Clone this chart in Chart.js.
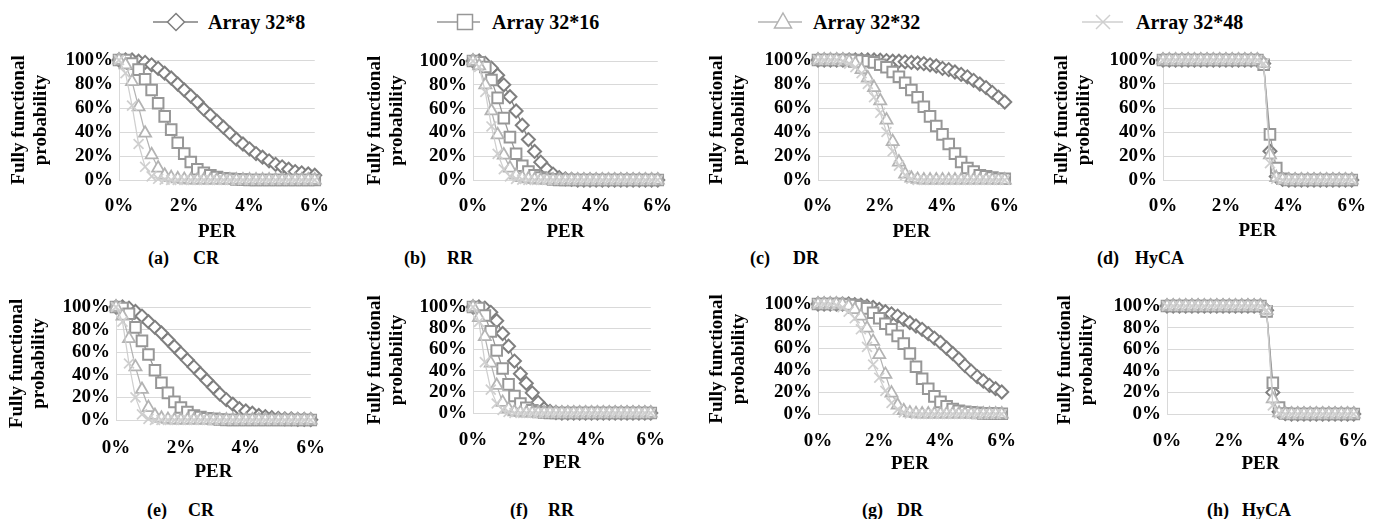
<!DOCTYPE html>
<html>
<head>
<meta charset="utf-8">
<script src="https://cdn.jsdelivr.net/npm/chart.js@4.4.1/dist/chart.umd.min.js"></script>
<style>
  html, body { margin: 0; padding: 0; background: #fff; }
  body { width: 1385px; height: 519px; position: relative; overflow: hidden;
         font-family: 'Liberation Serif', 'Times New Roman', serif; font-weight: bold; color: #000; }
  canvas { position: absolute; }
  .lg { position: absolute; font-size: 20px; line-height: 24px; white-space: nowrap; }
  .cap { position: absolute; font-size: 18px; line-height: 20px; white-space: nowrap; }
</style>
</head>
<body>
<svg id="legendMarks" width="1385" height="44" style="position:absolute;left:0;top:0"></svg>
<script>
// PER values (x) in percent
const per = [0, 0.2, 0.4, 0.6, 0.8, 1.0, 1.2, 1.4, 1.6, 1.8, 2.0, 2.2, 2.4, 2.6, 2.8, 3.0,
             3.2, 3.4, 3.6, 3.8, 4.0, 4.2, 4.4, 4.6, 4.8, 5.0, 5.2, 5.4, 5.6, 5.8, 6.0];
const seriesNames = ['Array 32*8', 'Array 32*16', 'Array 32*32', 'Array 32*48'];
const xTicks = [0, 2, 4, 6];
const yTicks = [0, 20, 40, 60, 80, 100];

// (a) CR
const crA8  = [100,100,100,99,98,96,93,89,85,80,75,70,65,59,54,49,44,39,34,30,26,22,19,16,13,11,9,7,6,5,4];
const crA16 = [100,100,97,92,84,75,64,53,42,31,22,15,9,6,4,2.5,1.5,1,0.5,0.3,0,0,0,0,0,0,0,0,0,0,0];
const crA32 = [100,96,82,61,39,21,10,4,2,1,0.5,0,0,0,0,0,0,0,0,0,0,0,0,0,0,0,0,0,0,0,0];
const crA48 = [100,89,62,30,11,3,1,0.3,0,0,0,0,0,0,0,0,0,0,0,0,0,0,0,0,0,0,0,0,0,0,0];
// (b) RR
const rrB8  = [100,100,98,94,88,80,70,58,46,34,24,15,9,5,2,1,0.5,0,0,0,0,0,0,0,0,0,0,0,0,0,0];
const rrB16 = [100,99,95,84,69,52,36,22,12,7,4,2,1,0.5,0,0,0,0,0,0,0,0,0,0,0,0,0,0,0,0,0];
const rrB32 = [100,96,80,58,38,21,10,4,2,1,0.3,0,0,0,0,0,0,0,0,0,0,0,0,0,0,0,0,0,0,0,0];
const rrB48 = [100,95,74,45,22,9,3,1,0.3,0,0,0,0,0,0,0,0,0,0,0,0,0,0,0,0,0,0,0,0,0,0];
// (c) DR
const drC8  = [100,100,100,100,100,100,100,100,100,100,99.8,99.5,99,99,98.5,98,97.5,97,96,95,93,92,90,88,86,83,80,77,73,69,65];
const drC16 = [100,100,100,100,100,100,100,99.5,99,98,96,94,90,86,81,75,69,61,53,45,38,30,22,15,10,7,4,3,2,1,1];
const drC32 = [100,100,100,100,100,99,97,92,85,77,66,50,32,15,5,1.5,0.5,0,0,0,0,0,0,0,0,0,0,0,0,0,0];
const drC48 = [100,100,100,100,99,97,94,89,80,69,56,40,24,12,4,1,0,0,0,0,0,0,0,0,0,0,0,0,0,0,0];
// (d) HyCA
const hyD8  = [100,100,100,100,100,100,100,100,100,100,100,100,100,100,100,100,97,24,3,0.5,0,0,0,0,0,0,0,0,0,0,0];
const hyD16 = [100,100,100,100,100,100,100,100,100,100,100,100,100,100,100,100,96,38,10,1,0,0,0,0,0,0,0,0,0,0,0];
const hyD32 = [100,100,100,100,100,100,100,100,100,100,100,100,100,100,100,100,97,21,2,0.3,0,0,0,0,0,0,0,0,0,0,0];
const hyD48 = [100,100,100,100,100,100,100,100,100,100,100,100,100,100,100,100,97,14,1,0,0,0,0,0,0,0,0,0,0,0,0];
// (e) CR
const crE8  = [100,100,99,96,92,87,82,77,71,65,59,53,47,41,35,29,23,18,14,10,8,6,4,3,2,1.5,1,1,0.5,0.5,0.3];
const crE16 = [100,99,94,82,70,58,44,33,24,16,11,7,4,2.5,1.5,1,0.5,0,0,0,0,0,0,0,0,0,0,0,0,0,0];
const crE32 = [100,92,72,47,27,11,4,1.5,0.5,0,0,0,0,0,0,0,0,0,0,0,0,0,0,0,0,0,0,0,0,0,0];
const crE48 = [100,87,50,20,5,1,0,0,0,0,0,0,0,0,0,0,0,0,0,0,0,0,0,0,0,0,0,0,0,0,0];
// (f) RR
const rrF8  = [100,100,99,95,87,75,63,49,37,28,19,10,4,1.5,0.5,0,0,0,0,0,0,0,0,0,0,0,0,0,0,0,0];
const rrF16 = [100,99,92,77,59,42,27,16,9,5,2.5,1,0.5,0,0,0,0,0,0,0,0,0,0,0,0,0,0,0,0,0,0];
const rrF32 = [100,90,72,47,26,10,4,1,0.3,0,0,0,0,0,0,0,0,0,0,0,0,0,0,0,0,0,0,0,0,0,0];
const rrF48 = [100,86,48,22,9,3,1,0,0,0,0,0,0,0,0,0,0,0,0,0,0,0,0,0,0,0,0,0,0,0,0];
// (g) DR
const drG8  = [100,100,100,100,100,100,99.5,99,98,97,95,93,91,89,86,83,80,77,73,69,65,60,55,50,44,39,34,30,26,23,20];
const drG16 = [100,100,100,100,100,99.5,99,98,96,92,87,82,77,71,64,55,43,32,23,16,11,7,4.5,3,2,1.5,1,0.5,0.5,0.3,0.2];
const drG32 = [100,100,100,100,99.5,98,95,89,78,66,54,36,19,8,3,1,0.3,0,0,0,0,0,0,0,0,0,0,0,0,0,0];
const drG48 = [100,100,100,99,97,93,87,77,61,45,33,21,10,4,1.5,0.5,0,0,0,0,0,0,0,0,0,0,0,0,0,0,0];
// (h) HyCA
const hyH8  = [100,100,100,100,100,100,100,100,100,100,100,100,100,100,100,100,96,20,2,0.3,0,0,0,0,0,0,0,0,0,0,0];
const hyH16 = [100,100,100,100,100,100,100,100,100,100,100,100,100,100,100,100,95,29,6,0.5,0,0,0,0,0,0,0,0,0,0,0];
const hyH32 = [100,100,100,100,100,100,100,100,100,100,100,100,100,100,100,100,96,14,1,0,0,0,0,0,0,0,0,0,0,0,0];
const hyH48 = [100,100,100,100,100,100,100,100,100,100,100,100,100,100,100,100,96,8,0.5,0,0,0,0,0,0,0,0,0,0,0,0];

const panels = [
  { tag: '(a)', name: 'CR',   series: [crA8, crA16, crA32, crA48] },
  { tag: '(b)', name: 'RR',   series: [rrB8, rrB16, rrB32, rrB48] },
  { tag: '(c)', name: 'DR',   series: [drC8, drC16, drC32, drC48] },
  { tag: '(d)', name: 'HyCA', series: [hyD8, hyD16, hyD32, hyD48] },
  { tag: '(e)', name: 'CR',   series: [crE8, crE16, crE32, crE48] },
  { tag: '(f)', name: 'RR',   series: [rrF8, rrF16, rrF32, rrF48] },
  { tag: '(g)', name: 'DR',   series: [drG8, drG16, drG32, drG48] },
  { tag: '(h)', name: 'HyCA', series: [hyH8, hyH16, hyH32, hyH48] }
];

// layout: plot area edges, y-title first line centre, x tick centre, PER centre, caption
const boxes = [
  { l: 119,  r: 320,  t: 60,  b: 180, title: 19,   tick: 203, per: 232, capA: 148,  capB: 193,  capY: 258 },
  { l: 473,  r: 663,  t: 61,  b: 180, title: 375,  tick: 203, per: 232, capA: 404,  capB: 447,  capY: 258 },
  { l: 818,  r: 1010, t: 60,  b: 180, title: 717,  tick: 203, per: 232, capA: 750,  capB: 793,  capY: 258 },
  { l: 1163, r: 1357, t: 60,  b: 180, title: 1062, tick: 203, per: 231, capA: 1097, capB: 1135, capY: 258 },
  { l: 116,  r: 318,  t: 307, b: 420, title: 17,   tick: 445, per: 472, capA: 147,  capB: 188,  capY: 510 },
  { l: 473,  r: 657,  t: 307, b: 413, title: 375,  tick: 437, per: 463, capA: 510,  capB: 548,  capY: 510 },
  { l: 818,  r: 1008, t: 304, b: 414, title: 717,  tick: 438, per: 464, capA: 862,  capB: 897,  capY: 510 },
  { l: 1167, r: 1360, t: 306, b: 414, title: 1065, tick: 438, per: 464, capA: 1207, capB: 1242, capY: 510 }
];

const colors = ['#7f7f7f', '#979797', '#b3b3b3', '#cfcfcf'];
const marks = [
  { style: 'rectRot',  r: 6.5, bw: 2 },
  { style: 'rect',     r: 7.5, bw: 2 },
  { style: 'triangle', r: 7,   bw: 1.75 },
  { style: 'crossRot', r: 7,   bw: 1.75 }
];

Chart.defaults.font.family = "'Liberation Serif', 'Times New Roman', serif";
Chart.defaults.font.size = 19;
Chart.defaults.font.weight = 'bold';
Chart.defaults.color = '#000';

const LH = 22;

panels.forEach((p, k) => {
  const box = boxes[k];
  const cl = box.title - LH / 2;
  const ct = box.t - 20;
  const xh = box.per + LH / 2 - box.b;
  const w = box.r + 16 - cl;
  const h = box.b + xh - ct;

  const cv = document.createElement('canvas');
  cv.width = w; cv.height = h;
  cv.style.left = cl + 'px'; cv.style.top = ct + 'px';
  cv.style.width = w + 'px'; cv.style.height = h + 'px';
  document.body.appendChild(cv);

  new Chart(cv, {
    type: 'line',
    data: {
      datasets: p.series.map((vals, i) => ({
        label: seriesNames[i],
        data: per.map((x, j) => ({ x: x, y: vals[j] })),
        borderColor: colors[i],
        backgroundColor: colors[i],
        borderWidth: 1.25,
        pointStyle: marks[i].style,
        pointRadius: marks[i].r,
        pointBorderWidth: marks[i].bw,
        pointBorderColor: colors[i],
        pointBackgroundColor: '#fff',
        order: 3 - i,
        clip: false,
        tension: 0
      }))
    },
    options: {
      responsive: false,
      animation: false,
      devicePixelRatio: 1,
      layout: { padding: { top: 20, right: 16, bottom: 0, left: 0 } },
      plugins: { legend: { display: false }, tooltip: { enabled: false } },
      scales: {
        x: {
          type: 'linear', min: 0, max: 6,
          grid: { display: false },
          border: { display: false },
          afterBuildTicks: s => { s.ticks = xTicks.map(v => ({ value: v })); },
          ticks: { padding: box.tick - box.b - 16, maxRotation: 0, autoSkip: false, callback: v => v + '%' },
          title: { display: true, text: 'PER', padding: 0, font: { lineHeight: LH + 'px' } },
          afterFit: s => { s.height = xh; }
        },
        y: {
          min: 0, max: 100,
          grid: { color: '#d9d9d9', drawTicks: false },
          border: { display: true, color: '#d9d9d9' },
          afterBuildTicks: s => { s.ticks = yTicks.map(v => ({ value: v })); },
          ticks: { padding: 6, autoSkip: false, callback: v => v + '%' },
          title: { display: true, text: ['Fully functional', 'probability'], padding: 0, font: { lineHeight: LH + 'px' } },
          afterFit: s => { s.width = box.l - cl; }
        }
      }
    }
  });

  const a = document.createElement('div');
  a.className = 'cap'; a.textContent = p.tag;
  a.style.left = box.capA + 'px'; a.style.top = (box.capY - 10) + 'px';
  document.body.appendChild(a);
  const b = document.createElement('div');
  b.className = 'cap'; b.textContent = p.name;
  b.style.left = box.capB + 'px'; b.style.top = (box.capY - 10) + 'px';
  document.body.appendChild(b);
});

// legend
const legendPos = [
  { x1: 153,  x2: 198,  mx: 176,  tx: 208 },
  { x1: 437,  x2: 480,  mx: 465,  tx: 492 },
  { x1: 758,  x2: 802,  mx: 783,  tx: 813 },
  { x1: 1082, x2: 1123, mx: 1103, tx: 1136 }
];
const LY = 22;
const svg = document.getElementById('legendMarks');
let svgHtml = '';
legendPos.forEach((lp, i) => {
  const c = colors[i];
  svgHtml += `<line x1="${lp.x1}" y1="${LY}" x2="${lp.x2}" y2="${LY}" stroke="${c}" stroke-width="1.5"/>`;
  const m = lp.mx;
  if (i === 0) {
    svgHtml += `<polygon points="${m},${LY - 8.5} ${m + 8.5},${LY} ${m},${LY + 8.5} ${m - 8.5},${LY}" fill="#fff" stroke="${c}" stroke-width="1.5"/>`;
  } else if (i === 1) {
    svgHtml += `<rect x="${m - 7.5}" y="${LY - 7.5}" width="15" height="15" fill="#fff" stroke="${c}" stroke-width="1.5"/>`;
  } else if (i === 2) {
    svgHtml += `<polygon points="${m},${LY - 9} ${m + 8.5},${LY + 6} ${m - 8.5},${LY + 6}" fill="#fff" stroke="${c}" stroke-width="1.5"/>`;
  } else {
    svgHtml += `<line x1="${m - 7}" y1="${LY - 7}" x2="${m + 7}" y2="${LY + 7}" stroke="${c}" stroke-width="1.5"/>`;
    svgHtml += `<line x1="${m - 7}" y1="${LY + 7}" x2="${m + 7}" y2="${LY - 7}" stroke="${c}" stroke-width="1.5"/>`;
  }
  const t = document.createElement('div');
  t.className = 'lg'; t.textContent = seriesNames[i];
  t.style.left = lp.tx + 'px'; t.style.top = (LY - 12) + 'px';
  document.body.appendChild(t);
});
svg.innerHTML = svgHtml;
</script>
</body>
</html>
